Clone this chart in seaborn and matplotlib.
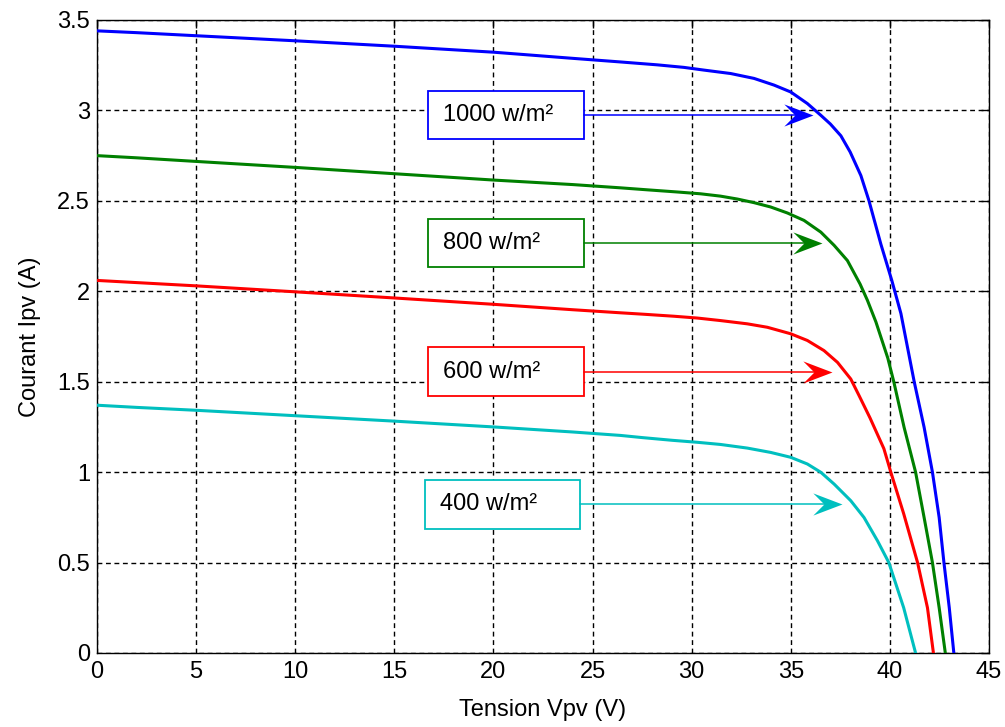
import numpy as np
import pandas as pd
import matplotlib
matplotlib.use("Agg")
import matplotlib.pyplot as plt
from matplotlib.patches import Rectangle
from matplotlib.path import Path
import seaborn as sns

# ---- data ----
labels = ["1000 w/m²", "800 w/m²", "600 w/m²", "400 w/m²"]
colors = ["#0000ff", "#008000", "#ff0000", "#00bfbf"]

v_1000 = [0, 2, 5, 10, 15, 20, 24, 26.41, 28.27, 29.61, 30.62, 31.97, 33.15, 34.16, 35.0,
          35.84, 36.52, 37.0, 37.53, 38.0, 38.54, 38.95, 39.55, 40.1, 40.56, 41.23, 41.73,
          42.15, 42.49, 42.73, 43.0, 43.23]
i_1000 = [3.44, 3.43, 3.413, 3.385, 3.355, 3.322, 3.288, 3.268, 3.252, 3.238, 3.223, 3.204,
          3.177, 3.14, 3.102, 3.038, 2.973, 2.925, 2.86, 2.77, 2.64, 2.5, 2.26, 2.06, 1.877,
          1.5, 1.248, 1.0, 0.749, 0.5, 0.25, 0.0]

v_800 = [0, 2, 5, 10, 15, 20, 24, 26.41, 27.76, 29.28, 30.45, 31.46, 32.31, 33.15, 33.99,
         34.83, 35.67, 36.52, 37.19, 37.86, 38.5, 38.87, 39.3, 39.9, 40.2, 40.72, 41.3, 41.73,
         42.15, 42.49, 42.8]
i_800 = [2.75, 2.738, 2.718, 2.685, 2.65, 2.615, 2.59, 2.572, 2.561, 2.549, 2.539, 2.526, 2.51,
         2.49, 2.466, 2.433, 2.392, 2.327, 2.254, 2.17, 2.04, 1.95, 1.83, 1.63, 1.5, 1.248,
         1.0, 0.749, 0.5, 0.25, 0.0]

v_600 = [0, 2, 5, 10, 15, 20, 24, 26.41, 27.59, 29.11, 30.29, 31.46, 32.81, 33.82, 35.0,
         35.84, 36.68, 37.36, 38.03, 38.45, 39.0, 39.7, 40.05, 40.7, 41.4, 41.9, 42.2]
i_600 = [2.06, 2.048, 2.03, 1.997, 1.963, 1.928, 1.898, 1.881, 1.873, 1.862, 1.852, 1.838,
         1.820, 1.801, 1.765, 1.728, 1.672, 1.607, 1.515, 1.423, 1.30, 1.13, 1.0, 0.77, 0.5,
         0.25, 0.0]

v_400 = [0, 2, 5, 10, 15, 20, 24, 26.41, 27.51, 29.02, 30.29, 31.46, 32.81, 33.99, 35.0,
         35.84, 36.52, 37.19, 38.03, 38.7, 39.38, 39.95, 40.7, 41.3]
i_400 = [1.37, 1.358, 1.342, 1.312, 1.282, 1.25, 1.222, 1.203, 1.191, 1.176, 1.165, 1.153,
         1.133, 1.109, 1.082, 1.045, 0.999, 0.934, 0.842, 0.749, 0.62, 0.5, 0.25, 0.0]

x_ticks = [0, 5, 10, 15, 20, 25, 30, 35, 40, 45]
y_ticks = [0, 0.5, 1, 1.5, 2, 2.5, 3, 3.5]
y_tick_labels = ["0", "0.5", "1", "1.5", "2", "2.5", "3", "3.5"]

# annotation layout (box left/right in V, centre in A, arrow tip in V)
box_left = [16.72, 16.72, 16.72, 16.57]
box_right = [24.55, 24.55, 24.55, 24.39]
box_center = [2.975, 2.267, 1.556, 0.823]
box_height = 0.27
arrow_tip = [36.1, 36.6, 37.1, 37.6]

# ---- build table ----
frames = []
for lab, v, i in zip(labels, [v_1000, v_800, v_600, v_400], [i_1000, i_800, i_600, i_400]):
    frames.append(pd.DataFrame({"V": v, "I": i, "G": lab}))
df = pd.concat(frames, ignore_index=True)

sns.set_style("white")
plt.rcParams["font.family"] = ["Liberation Sans", "DejaVu Sans"]
plt.rcParams["text.color"] = "black"
plt.rcParams["axes.labelcolor"] = "black"

fig = plt.figure(figsize=(10.05, 7.27), dpi=100)
ax = fig.add_axes([0.0965, 0.1018, 0.8875, 0.8707])

sns.lineplot(data=df, x="V", y="I", hue="G", palette=dict(zip(labels, colors)),
             estimator=None, sort=False, linewidth=2.2, legend=False, ax=ax, zorder=3)

ax.set_xlim(0, 45)
ax.set_ylim(0, 3.5)
ax.set_xticks(x_ticks)
ax.set_yticks(y_ticks)
ax.set_yticklabels(y_tick_labels)
ax.grid(True, color="black", linestyle=(0, (3.5, 2.6)), linewidth=1.0)
ax.set_axisbelow(True)
for s in ax.spines.values():
    s.set_color("black")
    s.set_linewidth(1.0)
ax.tick_params(direction="in", length=6, width=1, top=True, right=True,
               labelsize=17, colors="black")
ax.tick_params(axis="x", pad=6)
ax.tick_params(axis="y", pad=5)
ax.set_xlabel("Tension Vpv (V)", fontsize=17, labelpad=11, color="black")
ax.set_ylabel("Courant Ipv (A)", fontsize=17, labelpad=12, color="black")

# notched arrowhead (tip at origin)
head = Path([(0, 0), (-1, 0.38), (-0.62, 0), (-1, -0.38), (0, 0)],
            [Path.MOVETO, Path.LINETO, Path.LINETO, Path.LINETO, Path.CLOSEPOLY])

for lab, c, bl, br, bc, tip in zip(labels, colors, box_left, box_right, box_center, arrow_tip):
    ax.add_patch(Rectangle((bl, bc - box_height / 2), br - bl, box_height,
                           facecolor="white", edgecolor=c, linewidth=1.3, zorder=5))
    ax.text(bl + 0.75, bc, lab, ha="left", va="center", fontsize=17, color="black", zorder=6)
    ax.plot([br, tip - 0.5], [bc, bc], color=c, linewidth=1.1, zorder=6)
    ax.plot([tip], [bc], marker=head, markersize=42, color=c, markeredgewidth=0,
            linestyle="none", zorder=6)

fig.savefig("out.png", dpi=100, facecolor="white")
